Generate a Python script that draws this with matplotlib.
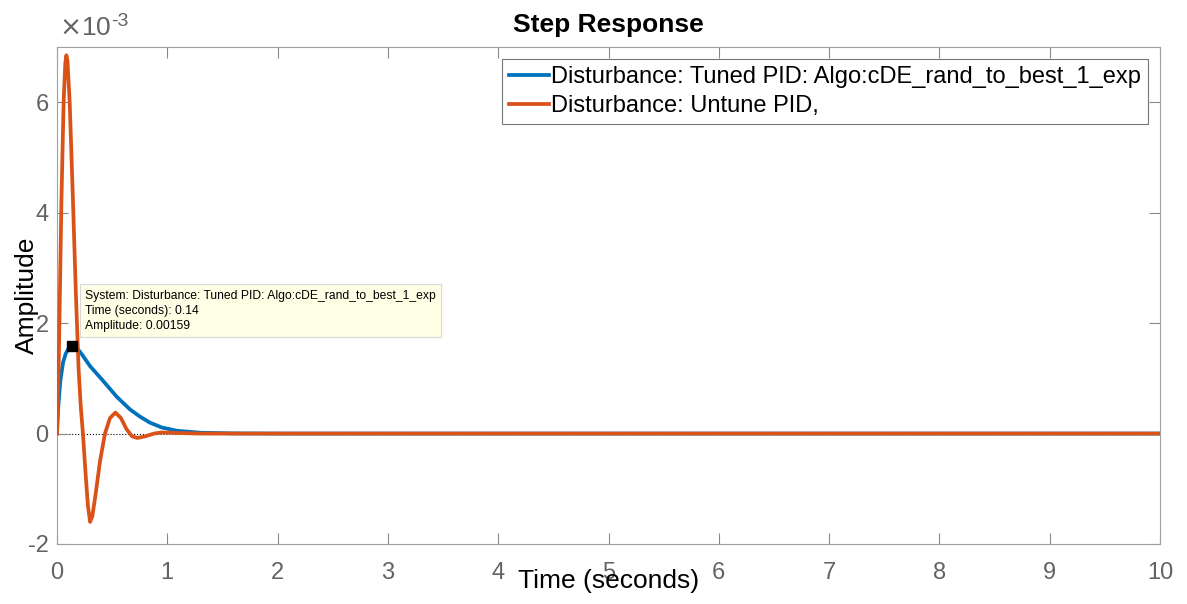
import matplotlib.pyplot as plt

plt.rcParams['font.family'] = ['Liberation Sans', 'DejaVu Sans']
plt.rcParams['axes.unicode_minus'] = False

# amplitudes are in units of 1e-3
t_tuned = [0, 0.01, 0.03, 0.055, 0.08, 0.11, 0.14, 0.18, 0.22, 0.30, 0.42, 0.54,
           0.66, 0.75, 0.84, 0.95, 1.09, 1.3, 1.6, 2.0, 10]
y_tuned = [0, 0.45, 0.95, 1.29, 1.45, 1.56, 1.59, 1.55, 1.45, 1.22, 0.95, 0.67,
           0.44, 0.31, 0.20, 0.11, 0.05, 0.015, 0.003, 0, 0]

t_untune = [0, 0.005, 0.015, 0.025, 0.04, 0.06, 0.075, 0.085, 0.095, 0.115, 0.13,
            0.145, 0.17, 0.196, 0.215, 0.235, 0.26, 0.28, 0.30, 0.32, 0.35, 0.39,
            0.435, 0.48, 0.53, 0.58, 0.63, 0.68, 0.73, 0.80, 0.88, 0.95, 1.1, 1.3, 10]
y_untune = [0, 0.4, 1.2, 2.4, 4.2, 6.0, 6.7, 6.85, 6.75, 6.0, 5.1,
            4.2, 2.6, 1.16, 0.5, 0, -0.75, -1.3, -1.6, -1.5, -1.1, -0.5,
            0, 0.28, 0.38, 0.28, 0.08, -0.05, -0.08, -0.05, 0.0, 0.02, 0.01, 0, 0]

tip_t, tip_y = 0.14, 1.59

x_ticks = list(range(0, 11))
y_ticks = [-2, 0, 2, 4, 6]

gray = '#636363'

fig = plt.figure(figsize=(11.87, 6.04), dpi=100)
ax = fig.add_axes([57/1187, 1 - 544/604, (1160-57)/1187, (544-47)/604])

ax.axhline(0, color='black', linestyle=':', linewidth=0.8, zorder=1)
ax.plot(t_tuned, y_tuned, color='#0072BD', linewidth=2.7,
        label='Disturbance: Tuned PID: Algo:cDE_rand_to_best_1_exp', zorder=2)
ax.plot(t_untune, y_untune, color='#D95319', linewidth=2.7,
        label='Disturbance: Untune PID,', zorder=3)

# data tip
ax.plot([tip_t], [tip_y], marker='s', color='black', markersize=7, zorder=5)
ax.annotate('System: Disturbance: Tuned PID: Algo:cDE_rand_to_best_1_exp\n'
            'Time (seconds): 0.14\nAmplitude: 0.00159',
            (tip_t, tip_y), xytext=(9, 10), textcoords='offset points',
            fontsize=8.7, va='bottom', ha='left', linespacing=1.35,
            bbox=dict(boxstyle='square,pad=0.45', facecolor='#FFFFE6',
                      edgecolor='#d8d8d8', linewidth=0.8), zorder=6)

ax.set_xlim(0, 10)
ax.set_ylim(-2, 7)
ax.set_xticks(x_ticks)
ax.set_yticks(y_ticks)
ax.tick_params(direction='in', length=8, width=0.8, colors='#888888',
               labelcolor=gray, labelsize=17, top=True, right=True)
ax.tick_params(axis='x', pad=13)
ax.tick_params(axis='y', pad=6)
for s in ax.spines.values():
    s.set_color('#a0a0a0')
    s.set_linewidth(0.8)

ax.set_title('Step Response', fontsize=19, fontweight='bold', pad=11)
ax.set_xlabel('Time (seconds)', fontsize=19)
ax.xaxis.set_label_coords(0.5, -0.05)
ax.set_ylabel('Amplitude', fontsize=19)
ax.yaxis.set_label_coords(-0.016, 0.5)

# axis exponent
fig.text(59/1187, 1 - 40/604, r'$\times$10', fontsize=19, color=gray,
         ha='left', va='bottom')
fig.text(111/1187, 1 - 30/604, '-3', fontsize=14, color=gray,
         ha='left', va='bottom')

leg = ax.legend(loc='upper right', fontsize=17, frameon=True, fancybox=False,
                handlelength=1.7, handletextpad=0.1, borderpad=0.3,
                labelspacing=0.3, borderaxespad=0.5)
leg.get_frame().set_edgecolor('#555555')
leg.get_frame().set_linewidth(0.8)

plt.savefig('out.png', dpi=100)
